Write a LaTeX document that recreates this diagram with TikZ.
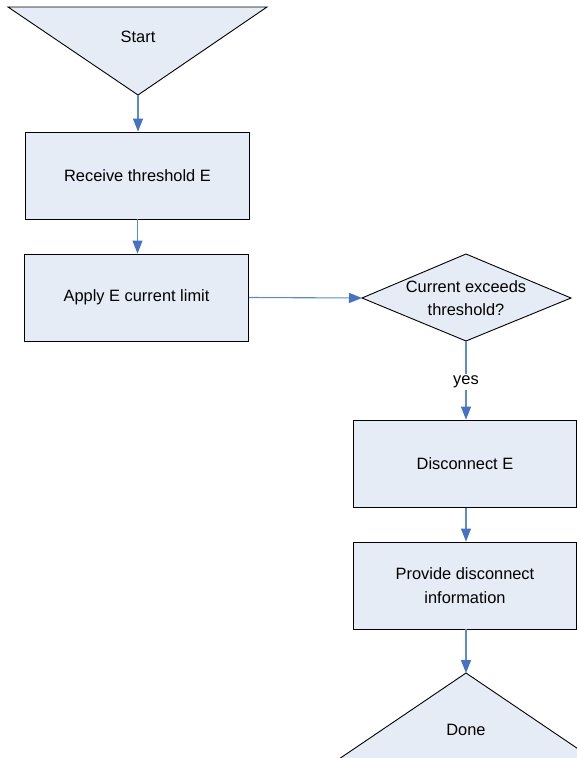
\documentclass[tikz,border=0pt]{standalone}
\usepackage{fontspec}
\setmainfont{Liberation Sans}
\usetikzlibrary{arrows.meta}
\definecolor{boxfill}{RGB}{230,236,246}
\definecolor{linkblue}{RGB}{92,139,204}
\definecolor{headblue}{RGB}{68,114,196}
\begin{document}
\begin{tikzpicture}[x=1pt,y=-1pt,
  every node/.style={font=\fontsize{16.4}{23.5}\selectfont, align=center},
  shapeline/.style={draw=black, line width=0.9pt, fill=boxfill},
  procbox/.style={shapeline, rectangle, minimum width=224pt, minimum height=87pt, inner sep=0pt},
  boldbox/.style={procbox, line width=1.8pt},
  flow/.style={draw=linkblue, line width=1.1pt, -{Triangle[length=13pt,width=10pt,fill=headblue,color=headblue]}},
  lbl/.style={fill=white, inner sep=2pt}
]
\useasboundingbox (0,0) rectangle (577,758);

% Start triangle
\path[shapeline] (8,7) -- (267,7) -- (138,95) -- cycle;
\coordinate (startTip) at (138,95);
\node (start) at (138,37) {Start};

% Process boxes
\node[procbox] (recv) at (137.5,175.5) {Receive threshold E};
\node[procbox] (apply) at (136.5,297.5) {Apply E current limit};

% Decision diamond
\path[shapeline] (362,298) -- (466,254) -- (571,298) -- (466,341) -- cycle;
\coordinate (diaL) at (362,298);
\coordinate (diaB) at (466,341);
\node (dec) at (466,298) {Current exceeds\\threshold?};

\node[boldbox, minimum width=223pt] (disc) at (465,464) {Disconnect E};
\node[procbox, minimum width=223pt, minimum height=87pt] (info) at (465,585.5) {Provide disconnect\\information};

% Done triangle
\path[shapeline] (466,673) -- (596,761) -- (336,761) -- cycle;
\coordinate (doneTip) at (466,673);
\node (done) at (466,730) {Done};

% Connectors
\draw[flow] (startTip) -- (recv.north -| startTip);
\draw[flow] (recv.south) -- (recv.south |- apply.north);
\draw[flow] (apply.east) -- (diaL);
\draw[flow] (diaB) -- node[lbl, pos=0.52] (yes) {yes} (diaB |- disc.north);
\draw[flow] (disc.south -| diaB) -- (diaB |- info.north);
\draw[flow] (info.south -| diaB) -- (doneTip);
\end{tikzpicture}
\end{document}
